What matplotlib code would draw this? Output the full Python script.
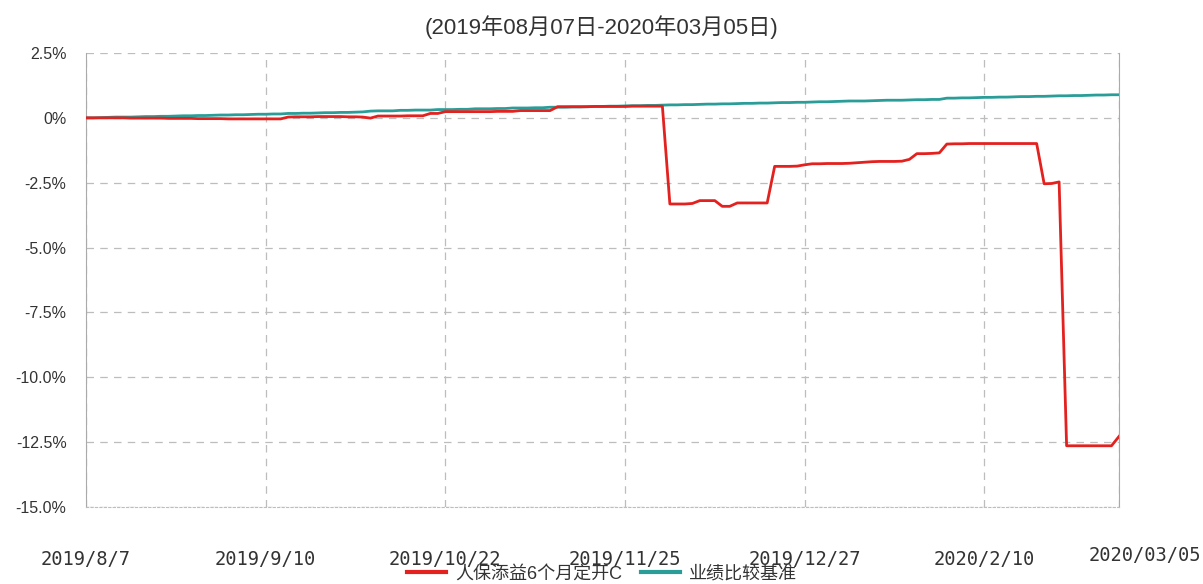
import matplotlib
matplotlib.use("Agg")
import matplotlib.pyplot as plt
import matplotlib.transforms as mtransforms

# ---------------- data ----------------
dates = (
    ["2019/8/%d" % d for d in [7, 8, 9, 12, 13, 14, 15, 16, 19, 20, 21, 22, 23, 26, 27, 28, 29, 30]]
    + ["2019/9/%d" % d for d in [2, 3, 4, 5, 6, 9, 10, 11, 12, 16, 17, 18, 19, 20, 23, 24, 25, 26, 27, 30]]
    + ["2019/10/%d" % d for d in [8, 9, 10, 11, 14, 15, 16, 17, 18, 21, 22, 23, 24, 25, 28, 29, 30, 31]]
    + ["2019/11/%d" % d for d in [1, 4, 5, 6, 7, 8, 11, 12, 13, 14, 15, 18, 19, 20, 21, 22, 25, 26, 27, 28, 29]]
    + ["2019/12/%d" % d for d in [2, 3, 4, 5, 6, 9, 10, 11, 12, 13, 16, 17, 18, 19, 20, 23, 24, 25, 26, 27, 30, 31]]
    + ["2020/1/%d" % d for d in [2, 3, 6, 7, 8, 9, 10, 13, 14, 15, 16, 17, 20, 21, 22, 23]]
    + ["2020/2/%d" % d for d in [3, 4, 5, 6, 7, 10, 11, 12, 13, 14, 17, 18, 19, 20, 21, 24, 25, 26, 27, 28]]
    + ["2020/3/%d" % d for d in [2, 3, 4, 5]]
)

fund = [
    # Aug
    0.00, 0.00, 0.00, 0.00, 0.00, 0.00, -0.01, -0.01, -0.01, -0.01, -0.01, -0.02, -0.02, -0.02, -0.02, -0.03, -0.03, -0.03,
    # Sep
    -0.03, -0.04, -0.04, -0.04, -0.04, -0.04, -0.04, -0.04, -0.04, 0.03, 0.04, 0.04, 0.04, 0.05, 0.05, 0.05, 0.05, 0.04, 0.04, 0.03,
    # Oct
    -0.01, 0.07, 0.07, 0.07, 0.07, 0.08, 0.08, 0.08, 0.17, 0.17, 0.24, 0.24, 0.24, 0.24, 0.24, 0.24, 0.24, 0.25,
    # Nov
    0.25, 0.25, 0.28, 0.28, 0.28, 0.28, 0.28, 0.43, 0.43, 0.43, 0.43, 0.43, 0.44, 0.44, 0.44, 0.44, 0.44, 0.45, 0.45, 0.45, 0.45,
    # Dec
    0.45, -3.32, -3.32, -3.32, -3.30, -3.19, -3.19, -3.19, -3.41, -3.41, -3.28, -3.28, -3.28, -3.28, -3.28, -1.87, -1.87, -1.87, -1.86, -1.81, -1.77, -1.77,
    # Jan
    -1.76, -1.76, -1.76, -1.75, -1.73, -1.71, -1.69, -1.68, -1.68, -1.68, -1.67, -1.60, -1.38, -1.38, -1.37, -1.35,
    # Feb
    -1.01, -1.00, -1.00, -0.99, -0.99, -0.99, -0.99, -0.99, -0.99, -0.99, -0.99, -0.99, -0.99, -2.54, -2.53, -2.47, -12.64, -12.64, -12.64, -12.64,
    # Mar
    -12.64, -12.64, -12.64, -12.28,
]

benchmark = [
    # Aug
    0.00, 0.00, 0.01, 0.02, 0.03, 0.03, 0.03, 0.04, 0.05, 0.05, 0.06, 0.06, 0.07, 0.08, 0.08, 0.09, 0.09, 0.10,
    # Sep
    0.11, 0.11, 0.12, 0.12, 0.13, 0.14, 0.14, 0.15, 0.15, 0.17, 0.17, 0.18, 0.18, 0.19, 0.20, 0.20, 0.21, 0.21, 0.22, 0.23,
    # Oct
    0.26, 0.27, 0.27, 0.27, 0.29, 0.29, 0.30, 0.30, 0.30, 0.32, 0.32, 0.32, 0.33, 0.33, 0.35, 0.35, 0.35, 0.36,
    # Nov
    0.36, 0.38, 0.38, 0.38, 0.39, 0.39, 0.41, 0.41, 0.41, 0.42, 0.42, 0.43, 0.44, 0.44, 0.45, 0.45, 0.46, 0.47, 0.47, 0.48, 0.48,
    # Dec
    0.49, 0.50, 0.50, 0.51, 0.51, 0.52, 0.53, 0.53, 0.54, 0.54, 0.55, 0.56, 0.56, 0.57, 0.57, 0.58, 0.59, 0.59, 0.60, 0.60, 0.61, 0.62,
    # Jan
    0.62, 0.63, 0.64, 0.65, 0.65, 0.65, 0.66, 0.67, 0.68, 0.68, 0.68, 0.69, 0.70, 0.70, 0.71, 0.71,
    # Feb
    0.76, 0.76, 0.77, 0.77, 0.78, 0.79, 0.79, 0.80, 0.80, 0.81, 0.82, 0.82, 0.83, 0.83, 0.84, 0.85, 0.85, 0.86, 0.86, 0.87,
    # Mar
    0.88, 0.88, 0.89, 0.89,
]

series_names = ["人保添益6个月定开C", "业绩比较基准"]
title_text = "(2019年08月07日-2020年03月05日)"
xtick_dates = ["2019/8/7", "2019/9/10", "2019/10/22", "2019/11/25", "2019/12/27", "2020/2/10", "2020/3/5"]
xtick_labels = ["2019/8/7", "2019/9/10", "2019/10/22", "2019/11/25", "2019/12/27", "2020/2/10", "2020/03/05"]
ytick_values = [2.5, 0, -2.5, -5.0, -7.5, -10.0, -12.5, -15.0]
ytick_labels = ["2.5%", "0%", "-2.5%", "-5.0%", "-7.5%", "-10.0%", "-12.5%", "-15.0%"]

# ---------------- plot ----------------
plt.rcParams['font.family'] = ['Liberation Sans', 'Noto Sans CJK SC', 'DejaVu Sans']

W, H = 1203, 584
fig = plt.figure(figsize=(W / 100, H / 100), dpi=100)
ax = fig.add_axes([86 / W, 1 - 507 / H, (1119 - 86) / W, (507 - 53) / H])

x = list(range(len(dates)))
red = "#e3211f"
teal = "#2a9d98"
l_bench, = ax.plot(x, benchmark, color=teal, lw=2.0, label=series_names[1], zorder=3)
l_fund, = ax.plot(x, fund, color=red, lw=2.0, label=series_names[0], zorder=4)

ax.set_xlim(0, len(dates) - 1)
ax.set_ylim(-15, 2.5)

xt = [dates.index(d) for d in xtick_dates]
ax.set_xticks(xt)
ax.set_xticklabels(xtick_labels, family=['DejaVu Sans Mono'], fontsize=13.5, color="#333333")
ax.set_yticks(ytick_values)
ax.set_yticklabels(ytick_labels, fontsize=11.5, color="#333333")
ax.tick_params(axis='x', length=0, pad=31)
ax.tick_params(axis='y', length=0, pad=14)

# last x label sits a little right and higher
lbl = ax.get_xticklabels()[-1]
lbl.set_transform(lbl.get_transform() + mtransforms.ScaledTranslation(26 / 100, 4 / 100, fig.dpi_scale_trans))

ax.grid(True, which='major', color="#bdbdbd", linestyle=(0, (6, 5)), linewidth=0.9)
ax.set_axisbelow(True)

ax.spines['top'].set_visible(False)
ax.spines['left'].set_color("#aaaaaa")
ax.spines['right'].set_color("#aaaaaa")
ax.spines['bottom'].set_color("#bdbdbd")
ax.spines['bottom'].set_linestyle((0, (2, 2)))

fig.text(602 / W, 1 - 27 / H, title_text, ha='center', va='center', fontsize=16, color="#333333")

leg = fig.legend(handles=[l_fund, l_bench], labels=series_names, loc='center',
                 bbox_to_anchor=(602 / W, 1 - 574 / H), ncol=2, frameon=False,
                 fontsize=13, handlelength=2.2, handletextpad=0.5, columnspacing=1.0,
                 labelcolor="#333333", borderpad=0.1)
for h in leg.legend_handles:
    h.set_linewidth(3)

fig.savefig("out.png", dpi=100)
